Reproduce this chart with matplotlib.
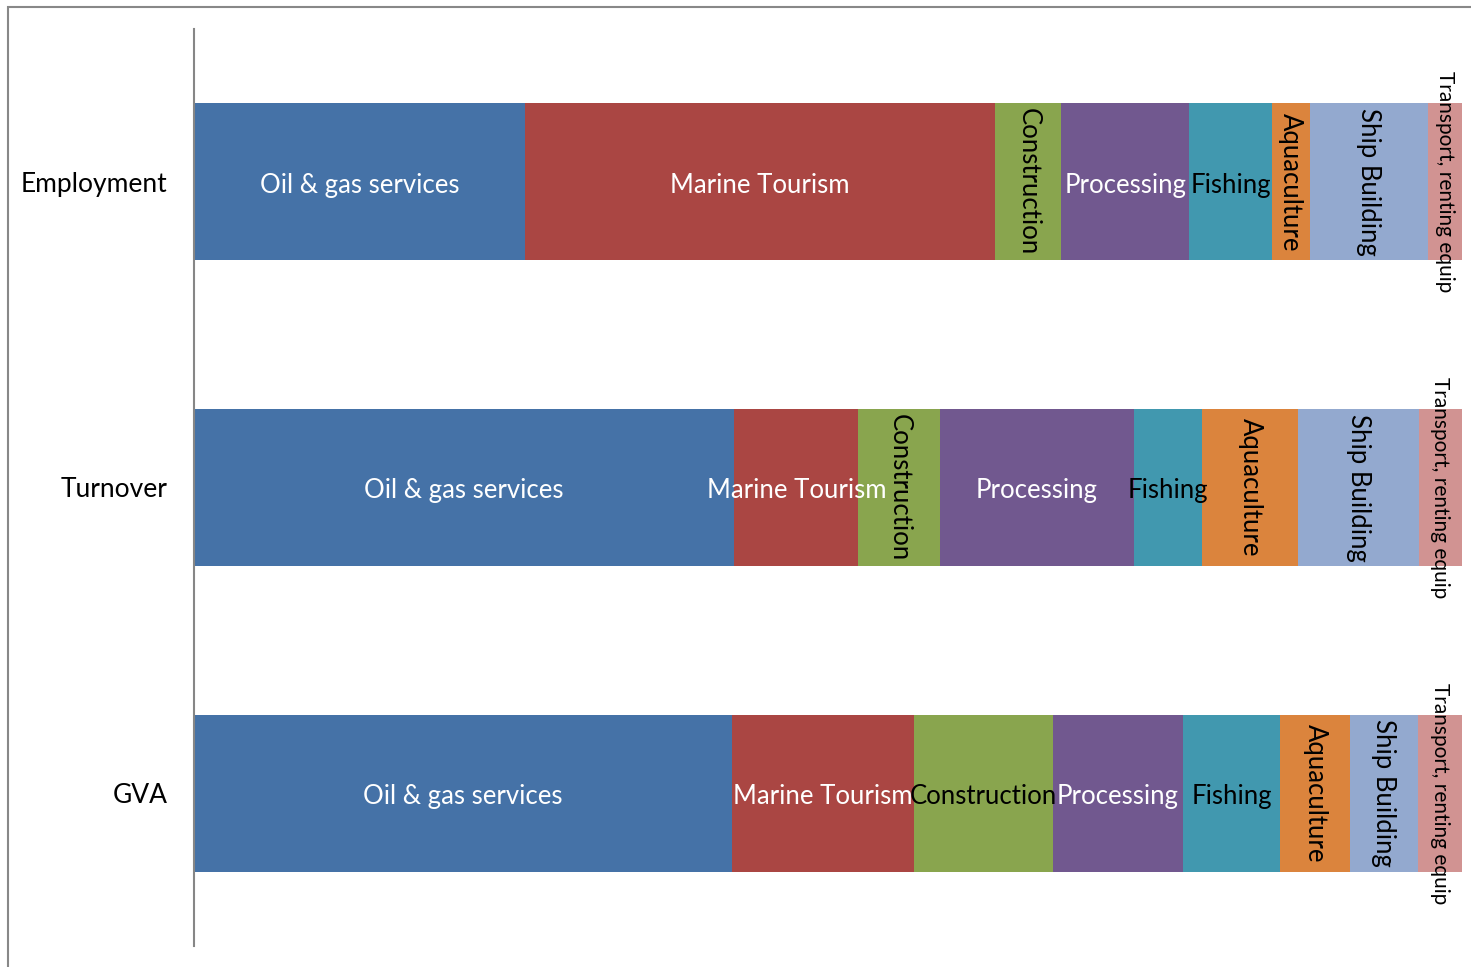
import matplotlib
matplotlib.use("Agg")
import matplotlib.pyplot as plt
from matplotlib.patches import Rectangle

categories = ["Employment", "Turnover", "GVA"]
sectors = ["Oil & gas services", "Marine Tourism", "Construction", "Processing",
           "Fishing", "Aquaculture", "Ship Building", "Transport, renting equip"]
employment = [26.1, 37.1, 5.2, 10.1, 6.5, 3.0, 9.3, 2.7]
turnover = [42.6, 9.8, 6.4, 15.3, 5.4, 7.6, 9.5, 3.4]
gva = [42.4, 14.3, 11.0, 10.2, 7.7, 5.5, 5.3, 3.5]

colors = ["#4572A7", "#AA4643", "#89A54E", "#71588F",
          "#4198AF", "#DB843D", "#93A9CF", "#D19392"]
text_colors = ["white", "white", "black", "white", "black", "black", "black", "black"]
# rotation of the label per category/sector
rotated = {
    "Employment": [False, False, True, False, False, True, True, True],
    "Turnover": [False, False, True, False, False, True, True, True],
    "GVA": [False, False, False, False, False, True, True, True],
}

data = {"Employment": employment, "Turnover": turnover, "GVA": gva}

plt.rcParams['font.family'] = ['Lato', 'DejaVu Sans']

fig = plt.figure(figsize=(14.71, 9.67), dpi=100)
ax = fig.add_axes([194/1471, 1 - 946/967, (1462 - 194)/1471, (946 - 29)/967])

bar_h = 0.514
for i, cat in enumerate(categories):
    vals = data[cat]
    tot = sum(vals)
    left = 0.0
    for j, v in enumerate(vals):
        w = v / tot * 100
        ax.barh(i, w, left=left, height=bar_h, color=colors[j], edgecolor='none')
        cx = left + w / 2
        rot = 270 if rotated[cat][j] else 0
        fs = 15 if j == 7 else 18.5
        va = 'center' if rot else 'center_baseline'
        ax.text(cx, i + (0 if rot else 0.003), sectors[j], ha='center', va=va, rotation=rot,
                color=text_colors[j], fontsize=fs, rotation_mode='anchor')
        left += w

ax.set_xlim(0, 100)
ax.set_ylim(2.5, -0.5)
ax.set_yticks(range(len(categories)))
ax.set_yticklabels(categories, fontsize=19)
ax.tick_params(axis='y', length=0, pad=19)
ax.set_xticks([])
for s in ['top', 'right', 'bottom']:
    ax.spines[s].set_visible(False)
ax.spines['left'].set_color('#868686')
ax.spines['left'].set_linewidth(1.5)

# outer frame
fig.patches.append(Rectangle((8/1471, -0.1), 1.2, 1 - 7/967 + 0.1,
                             transform=fig.transFigure, fill=False,
                             edgecolor='#888888', linewidth=1.5))

fig.savefig("out.png", dpi=100)
